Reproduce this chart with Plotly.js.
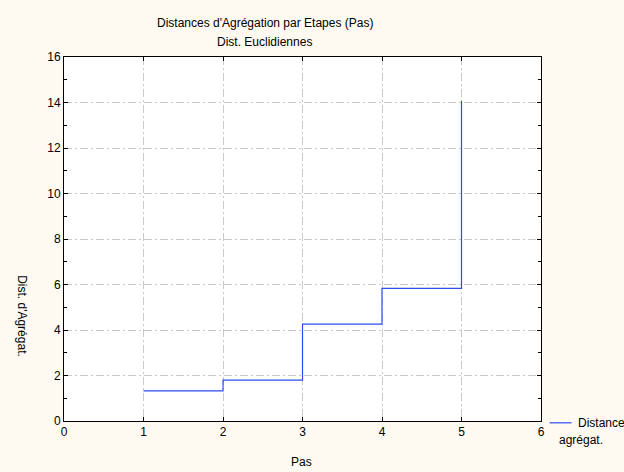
<!DOCTYPE html>
<html>
<head>
<meta charset="utf-8">
<script src="https://cdn.plot.ly/plotly-3.0.1.min.js"></script>
<style>html,body{margin:0;padding:0;background:#FEFAF1;}#chart{width:624px;height:472px;}</style>
</head>
<body>
<div id="chart"></div>
<script>
const pas = [1, 2, 3, 4, 5];
const distances = [1.32, 1.80, 4.26, 5.83, 14.07];
const xTicks = [0, 1, 2, 3, 4, 5, 6];
const yTicks = [0, 2, 4, 6, 8, 10, 12, 14, 16];
const seriesName = "Distance";

const font = {family: "Liberation Sans, Arial, sans-serif", size: 12, color: "#000"};
const gridStyle = {showgrid: true, gridcolor: "#c8c8c8", gridwidth: 1, griddash: "8px,3px,2px,3px"};

const trace = {
  x: pas, y: distances, type: "scatter", mode: "lines",
  line: {shape: "hv", color: "#2E4CF0", width: 1.2},
  name: seriesName, showlegend: false
};

const layout = {
  width: 624, height: 472,
  paper_bgcolor: "#FEFAF1", plot_bgcolor: "#FFFFFF",
  margin: {l: 64, r: 83, t: 57, b: 51},
  font: font,
  xaxis: Object.assign({
    range: [0, 6], tickvals: xTicks, ticktext: xTicks.map(String),
    showline: true, linecolor: "#000", linewidth: 1, mirror: "ticks",
    ticks: "inside", ticklen: 4, tickcolor: "#000",
    zeroline: false, tickfont: {size: 12}
  }, gridStyle),
  yaxis: Object.assign({
    range: [0, 16], tickvals: yTicks, ticktext: yTicks.map(String),
    showline: true, linecolor: "#000", linewidth: 1, mirror: "allticks",
    ticks: "inside", ticklen: 4, tickcolor: "#000",
    minor: {dtick: 1, ticks: "inside", ticklen: 3, tickcolor: "#000", showgrid: false},
    zeroline: false, tickfont: {size: 12}
  }, gridStyle),
  shapes: [
    {type: "line", xref: "paper", yref: "paper", x0: 1.018, x1: 1.064, y0: -0.005, y1: -0.005, line: {color: "#2E4CF0", width: 1.2}}
  ],
  annotations: [
    {text: "Distances d'Agrégation par Etapes (Pas)", xref: "paper", yref: "paper", x: 0.421, y: 1.093, xanchor: "center", yanchor: "middle", showarrow: false, font: {size: 12}},
    {text: "Dist. Euclidiennes", xref: "paper", yref: "paper", x: 0.421, y: 1.041, xanchor: "center", yanchor: "middle", showarrow: false, font: {size: 12}},
    {text: "Pas", xref: "paper", yref: "paper", x: 0.497, y: -0.113, xanchor: "center", yanchor: "middle", showarrow: false, font: {size: 12}},
    {text: "Dist. d'Agrégat.", xref: "paper", yref: "paper", x: -0.088, y: 0.288, textangle: 90, showarrow: false, font: {size: 12}, xanchor: "center", yanchor: "middle"},
    {text: "Distance", xref: "paper", yref: "paper", x: 1.073, y: -0.005, xanchor: "left", yanchor: "middle", showarrow: false, font: {size: 12}},
    {text: "agrégat.", xref: "paper", yref: "paper", x: 1.033, y: -0.052, xanchor: "left", yanchor: "middle", showarrow: false, font: {size: 12}}
  ]
};

Plotly.newPlot("chart", [trace], layout, {displayModeBar: false, staticPlot: true});
</script>
</body>
</html>
